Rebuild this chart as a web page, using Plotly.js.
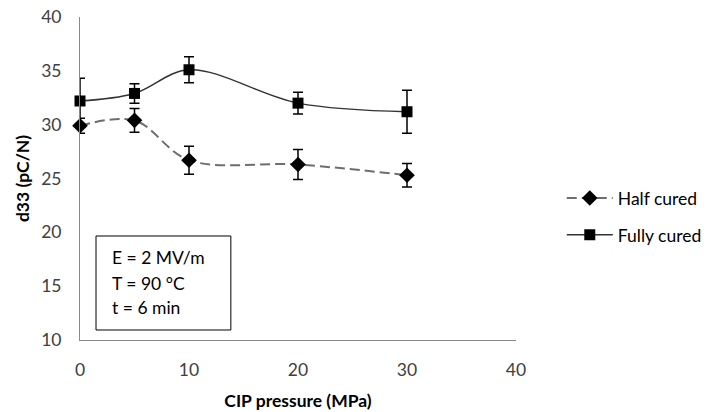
<!DOCTYPE html>
<html>
<head>
<meta charset="utf-8">
<script src="https://cdn.plot.ly/plotly-3.0.1.min.js"></script>
<style>html,body{margin:0;padding:0;background:#fff;}#chart{width:713px;height:412px;}</style>
</head>
<body>
<div id="chart"></div>
<script>
// Data
const cipPressure = [0, 5, 10, 20, 30];
const halfCured = [29.9, 30.4, 26.7, 26.3, 25.3];
const halfCuredErr = [0.7, 1.1, 1.3, 1.4, 1.1];
const fullyCured = [32.2, 32.9, 35.1, 32.0, 31.2];
const fullyCuredErr = [2.1, 0.9, 1.2, 1.0, 2.0];
const seriesNames = ["Half cured", "Fully cured"];
const boxLines = ["E = 2 MV/m", "T = 90 °C", "t = 6 min"];
const xTicks = [0, 10, 20, 30, 40];
const yTicks = [10, 15, 20, 25, 30, 35, 40];

const FONT = "Lato, 'Open Sans', sans-serif";
const FS = 17.5;

const traces = [
  {
    x: cipPressure, y: halfCured, name: seriesNames[0], type: "scatter", mode: "lines+markers",
    legendgroup: "a",
    line: {color: "#6e6e6e", width: 2, dash: "10px,5px", shape: "spline", smoothing: 1},
    marker: {symbol: "diamond", size: 12, color: "#000"},
    error_y: {type: "data", array: halfCuredErr, visible: true, color: "#000", thickness: 1.5, width: 5},
    cliponaxis: false
  },
  {
    x: cipPressure, y: fullyCured, name: seriesNames[1], type: "scatter", mode: "lines+markers",
    legendgroup: "b",
    line: {color: "#333", width: 1.5, shape: "spline", smoothing: 1},
    marker: {symbol: "square", size: 11, color: "#000"},
    error_y: {type: "data", array: fullyCuredErr, visible: true, color: "#000", thickness: 1.5, width: 5},
    cliponaxis: false
  }
];

const boxY = [0.254, 0.176, 0.102];
const annotations = boxLines.map((t, i) => ({
  text: t, xref: "paper", yref: "paper", x: 0.069, y: boxY[i],
  xanchor: "left", yanchor: "middle", showarrow: false,
  font: {family: FONT, size: FS, color: "#000"}
}));

const layout = {
  width: 713, height: 412,
  margin: {l: 80, r: 197, t: 17, b: 72, autoexpand: false},
  paper_bgcolor: "#fff", plot_bgcolor: "#fff",
  font: {family: FONT, size: FS, color: "#404040"},
  xaxis: {
    range: [0, 40], tickvals: xTicks, showgrid: false, zeroline: false,
    showline: true, linecolor: "#898989", linewidth: 1, ticks: "",
    tickfont: {family: FONT, size: FS, color: "#404040"}, ticklabelstandoff: 14,
    title: {text: "<b>CIP pressure (MPa)</b>", font: {family: FONT, size: FS, color: "#000"}, standoff: 15}
  },
  yaxis: {
    range: [10, 40], tickvals: yTicks, showgrid: false, zeroline: false,
    showline: true, linecolor: "#898989", linewidth: 1, ticks: "",
    tickfont: {family: FONT, size: FS, color: "#404040"}, ticklabelstandoff: 14,
    title: {text: "<b>d33 (pC/N)</b>", font: {family: FONT, size: FS, color: "#000"}, standoff: 7}
  },
  showlegend: true,
  legend: {
    x: 1.105, y: 0.495, xanchor: "left", yanchor: "top",
    tracegroupgap: 11, font: {family: FONT, size: FS, color: "#000"},
    bgcolor: "rgba(0,0,0,0)", itemwidth: 46
  },
  shapes: [{
    type: "rect", xref: "paper", yref: "paper",
    x0: 0.0367, x1: 0.346, y0: 0.031, y1: 0.322,
    line: {color: "#000", width: 1}, fillcolor: "rgba(0,0,0,0)"
  }],
  annotations: annotations
};

Plotly.newPlot("chart", traces, layout, {displayModeBar: false, staticPlot: true});
</script>
</body>
</html>
